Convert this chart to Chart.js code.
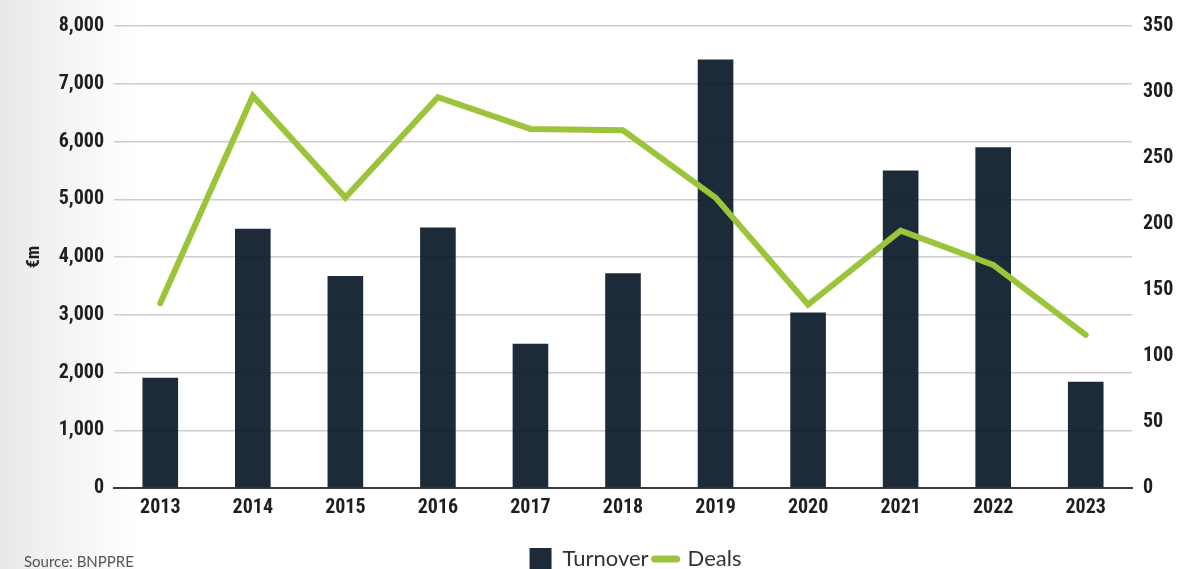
<!DOCTYPE html>
<html>
<head>
<meta charset="utf-8">
<script src="https://cdn.jsdelivr.net/npm/chart.js@4"></script>
<style>
  html, body { margin: 0; padding: 0; }
  body {
    width: 1192px; height: 569px; overflow: hidden; position: relative;
    background: linear-gradient(90deg, #e8e8e8 0px, #f3f3f3 60px, #ffffff 140px);
  }
  #wrap { position: absolute; left: 0; top: 0; width: 1192px; height: 569px; }
  #source {
    position: absolute; left: 24px; top: 551px;
    font-family: Lato, "Noto Sans", sans-serif; font-size: 15px; line-height: 20px;
    color: #555; white-space: nowrap;
  }
</style>
</head>
<body>
<div id="wrap"><canvas id="c" width="1192" height="569"></canvas></div>
<div id="source">Source: BNPPRE</div>
<script>
// Yearly turnover (€m, left axis) and number of deals (right axis)
const years = ['2013', '2014', '2015', '2016', '2017', '2018', '2019', '2020', '2021', '2022', '2023'];
const turnover = [1910, 4490, 3670, 4510, 2500, 3720, 7420, 3040, 5500, 5900, 1840];
const deals = [140, 297, 220, 296, 272, 271, 220, 139, 195, 169, 116];

const turnoverTicks = { min: 0, max: 8000, step: 1000 };
const dealsTicks = { min: 0, max: 350, step: 50 };

const navy = 'rgba(10, 25, 39, 0.92)';
const green = '#9cc43a';
const condensed = '"Roboto Condensed", "DejaVu Sans Condensed", sans-serif';
const tickFont = { family: condensed, size: 20, weight: 'bold' };

new Chart(document.getElementById('c'), {
  data: {
    labels: years,
    datasets: [
      {
        type: 'bar',
        label: 'Turnover',
        data: turnover,
        yAxisID: 'y',
        backgroundColor: navy,
        borderWidth: 0,
        categoryPercentage: 1,
        barPercentage: 0.385,
        order: 1
      },
      {
        type: 'line',
        label: 'Deals',
        data: deals,
        yAxisID: 'y1',
        borderColor: green,
        backgroundColor: green,
        borderWidth: 6,
        borderCapStyle: 'round',
        borderJoinStyle: 'miter',
        tension: 0,
        pointRadius: 0,
        pointHoverRadius: 0,
        order: 0
      }
    ]
  },
  options: {
    responsive: false,
    animation: false,
    layout: { padding: { top: 26, left: 0, right: -79, bottom: -11 } },
    plugins: {
      tooltip: { enabled: false },
      legend: {
        position: 'bottom',
        labels: {
          usePointStyle: true,
          pointStyleWidth: 22,
          boxHeight: 22,
          padding: 6,
          color: '#333',
          font: { family: 'Lato, "Noto Sans", sans-serif', size: 22 },
          generateLabels(chart) {
            return chart.data.datasets.map((ds, i) => {
              const isBar = ds.type === 'bar';
              return {
                text: ds.label,
                datasetIndex: i,
                fillStyle: isBar ? navy : green,
                strokeStyle: isBar ? navy : green,
                lineWidth: isBar ? 0 : 7,
                lineCap: 'round',
                pointStyle: isBar ? 'rect' : 'line',
                hidden: false,
                fontColor: '#333'
              };
            });
          }
        }
      }
    },
    scales: {
      x: {
        grid: { display: false, drawTicks: false },
        border: { display: true, color: '#3a3a3a', width: 2 },
        ticks: { color: '#1e1e1e', font: tickFont, padding: 8, maxRotation: 0 },
        afterFit(scale) { scale.height = 54; }
      },
      y: {
        position: 'left',
        min: turnoverTicks.min,
        max: turnoverTicks.max,
        grid: { color: '#cdcdcd', lineWidth: 1.5, drawTicks: false },
        border: { display: false },
        ticks: {
          stepSize: turnoverTicks.step,
          color: '#1e1e1e',
          font: tickFont,
          padding: 10,
          callback: v => v.toLocaleString('en-US')
        },
        title: {
          display: true,
          text: '€m',
          color: '#1e1e1e',
          font: { family: condensed, size: 18, weight: 'bold' },
          padding: { top: 24, bottom: 0 }
        },
        afterFit(scale) { scale.width = 114; }
      },
      y1: {
        position: 'right',
        min: dealsTicks.min,
        max: dealsTicks.max,
        grid: { display: false, drawTicks: false },
        border: { display: false },
        ticks: { stepSize: dealsTicks.step, color: '#1e1e1e', font: tickFont, padding: 11 },
        afterFit(scale) { scale.width = 139; }
      }
    }
  }
});
</script>
</body>
</html>
